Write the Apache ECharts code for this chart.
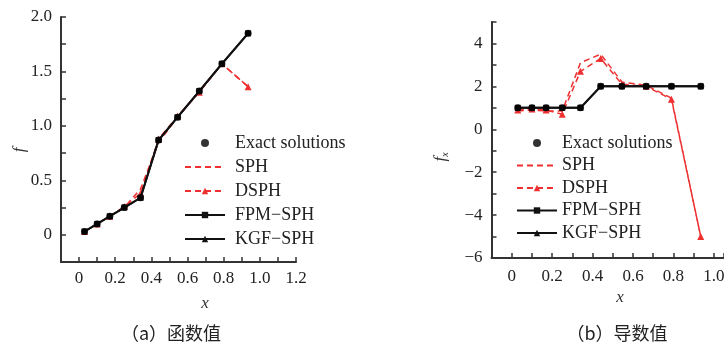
<!DOCTYPE html>
<html>
<head>
<meta charset="utf-8">
<script src="https://cdn.jsdelivr.net/npm/echarts@6/dist/echarts.min.js"></script>
<style>html,body{margin:0;padding:0;background:#fff;}#c{width:724px;height:346px;}</style>
</head>
<body>
<div id="c"></div>
<script>
// ---- data ----
const xPts = [0.03, 0.1, 0.17, 0.25, 0.34, 0.44, 0.545, 0.665, 0.79, 0.935];
// (a) function values
const fExact = [0.03, 0.1, 0.17, 0.25, 0.34, 0.87, 1.08, 1.32, 1.57, 1.85];
const fSPH   = [0.03, 0.1, 0.17, 0.25, 0.42, 0.85, 1.08, 1.31, 1.57, 1.36];
const fDSPH  = [0.03, 0.1, 0.17, 0.26, 0.38, 0.88, 1.09, 1.31, 1.57, 1.36];
const fFPM   = [0.03, 0.1, 0.17, 0.25, 0.34, 0.87, 1.08, 1.32, 1.57, 1.85];
const fKGF   = [0.03, 0.1, 0.17, 0.25, 0.34, 0.87, 1.08, 1.32, 1.57, 1.85];
// (b) derivative values
const dExact = [1, 1, 1, 1, 1, 2, 2, 2, 2, 2];
const dSPH   = [0.85, 0.9, 0.85, 0.85, 3.1, 3.5, 2.2, 2.05, 1.45, -5.0];
const dDSPH  = [0.9, 0.95, 0.9, 0.7, 2.7, 3.3, 2.1, 2.0, 1.4, -5.0];
const dFPM   = [1, 1, 1, 1, 1, 2, 2, 2, 2, 2];
const dKGF   = [1, 1, 1, 1, 1, 2, 2, 2, 2, 2];
const legendNames = ['Exact solutions', 'SPH', 'DSPH', 'FPM\u2212SPH', 'KGF\u2212SPH'];
const captions = ['\uff08a\uff09\u51fd\u6570\u503c', '\uff08b\uff09\u5bfc\u6570\u503c'];

const pairs = (ys) => xPts.map((x, i) => [x, ys[i]]);
const serif = 'Liberation Serif';
const axisCol = '#333';
const red = '#ee3030';

function xLab(v) {
  const k = Math.round(v * 10);
  if (k < 0 || k % 2 !== 0) return '';
  return k === 0 ? '0' : (k / 10).toFixed(1);
}
function commonAxis() {
  return {
    axisLine: { show: true, onZero: false, lineStyle: { color: axisCol, width: 2 } },
    axisTick: { show: true, inside: true, length: 5, lineStyle: { color: axisCol, width: 1.5 } },
    splitLine: { show: false },
    axisLabel: { fontFamily: serif, fontSize: 17, color: '#222' }
  };
}

function makeSeries(idx, ex, sph, dsph, fpm, kgf) {
  return [
    { name: legendNames[1], type: 'line', xAxisIndex: idx, yAxisIndex: idx, data: pairs(sph),
      symbol: 'none', lineStyle: { color: red, width: 1.5, type: [6, 4] }, itemStyle: { color: red }, z: 2 },
    { name: legendNames[2], type: 'line', xAxisIndex: idx, yAxisIndex: idx, data: pairs(dsph),
      symbol: 'triangle', symbolSize: 7, lineStyle: { color: red, width: 1.5, type: [6, 4] }, itemStyle: { color: red }, z: 2 },
    { name: legendNames[3], type: 'line', xAxisIndex: idx, yAxisIndex: idx, data: pairs(fpm),
      symbol: 'rect', symbolSize: 6, lineStyle: { color: '#111', width: 2 }, itemStyle: { color: '#111' }, z: 3 },
    { name: legendNames[4], type: 'line', xAxisIndex: idx, yAxisIndex: idx, data: pairs(kgf),
      symbol: 'triangle', symbolSize: 5, lineStyle: { color: '#111', width: 2 }, itemStyle: { color: '#111' }, z: 4 },
    { name: legendNames[0], type: 'scatter', xAxisIndex: idx, yAxisIndex: idx, data: pairs(ex),
      symbol: 'circle', symbolSize: 7, itemStyle: { color: '#000' }, z: 5 }
  ];
}

function legendData() {
  return legendNames.map((n, i) => i === 1 ? { name: n, itemStyle: { opacity: 0 } } : { name: n });
}

const chart = echarts.init(document.getElementById('c'), null, { renderer: 'canvas' });
chart.setOption({
  animation: false,
  backgroundColor: '#fff',
  grid: [
    { left: 61, top: 17, width: 235, height: 245, outerBoundsMode: 'none', containLabel: false },
    { left: 491.5, top: 22, width: 232.5, height: 236, outerBoundsMode: 'none', containLabel: false }
  ],
  xAxis: [
    Object.assign(commonAxis(), { type: 'value', gridIndex: 0, min: -0.1, max: 1.2, interval: 0.1,
      axisLabel: Object.assign(commonAxis().axisLabel, { margin: 8, formatter: xLab }) }),
    Object.assign(commonAxis(), { type: 'value', gridIndex: 1, min: -0.1, max: 1.05, interval: 0.1,
      axisLabel: Object.assign(commonAxis().axisLabel, { margin: 10, formatter: xLab }) })
  ],
  yAxis: [
    Object.assign(commonAxis(), { type: 'value', gridIndex: 0, min: -0.25, max: 2.0, interval: 0.25,
      axisLabel: Object.assign(commonAxis().axisLabel, { margin: 9, formatter: function (v) {
        const k = Math.round(v * 4);
        if (k < 0 || k % 2 !== 0) return '';
        return k === 0 ? '0' : (k / 4).toFixed(1);
      } }) }),
    Object.assign(commonAxis(), { type: 'value', gridIndex: 1, min: -6, max: 5, interval: 1,
      axisLabel: Object.assign(commonAxis().axisLabel, { margin: 9, formatter: function (v) {
        const k = Math.round(v);
        if (k % 2 !== 0) return '';
        return k < 0 ? '\u2212' + Math.abs(k) : String(k);
      } }) })
  ],
  legend: [
    { orient: 'vertical', left: 179, top: 129, itemWidth: 40, itemHeight: 8, itemGap: 6, selectedMode: false,
      data: legendData(), textStyle: { fontFamily: serif, fontSize: 18, color: '#222', padding: [0, 0, 0, 5] } },
    { orient: 'vertical', left: 511, top: 129, itemWidth: 40, itemHeight: 8, itemGap: 4.5, selectedMode: false,
      data: legendData(), textStyle: { fontFamily: serif, fontSize: 18, color: '#222', padding: [0, 0, 0, 0] } }
  ],
  graphic: [
    { type: 'text', x: 20, y: 150, rotation: Math.PI / 2, style: { text: 'f', font: 'italic 17px "Liberation Serif"', fill: '#333', align: 'center', verticalAlign: 'middle' } },
    { type: 'text', x: 441, y: 157, rotation: Math.PI / 2, style: { text: '{a|f}{b|x}', align: 'center', verticalAlign: 'middle',
      rich: { a: { fontFamily: serif, fontStyle: 'italic', fontSize: 17, fill: '#333' }, b: { fontFamily: serif, fontStyle: 'italic', fontSize: 10, fill: '#333', verticalAlign: 'bottom', padding: [8, 0, 0, 0] } } } },
    { type: 'text', x: 205, y: 304, style: { text: 'x', font: 'italic 17px "Liberation Serif"', fill: '#333', align: 'center', verticalAlign: 'middle' } },
    { type: 'text', x: 620, y: 298, style: { text: 'x', font: 'italic 17px "Liberation Serif"', fill: '#333', align: 'center', verticalAlign: 'middle' } },
    { type: 'text', x: 171, y: 333, style: { text: captions[0], font: '18px "Noto Sans CJK SC"', fill: '#222', align: 'center', verticalAlign: 'middle' } },
    { type: 'text', x: 617, y: 333, style: { text: captions[1], font: '18px "Noto Sans CJK SC"', fill: '#222', align: 'center', verticalAlign: 'middle' } }
  ],
  series: makeSeries(0, fExact, fSPH, fDSPH, fFPM, fKGF).concat(makeSeries(1, dExact, dSPH, dDSPH, dFPM, dKGF))
});
</script>
</body>
</html>
